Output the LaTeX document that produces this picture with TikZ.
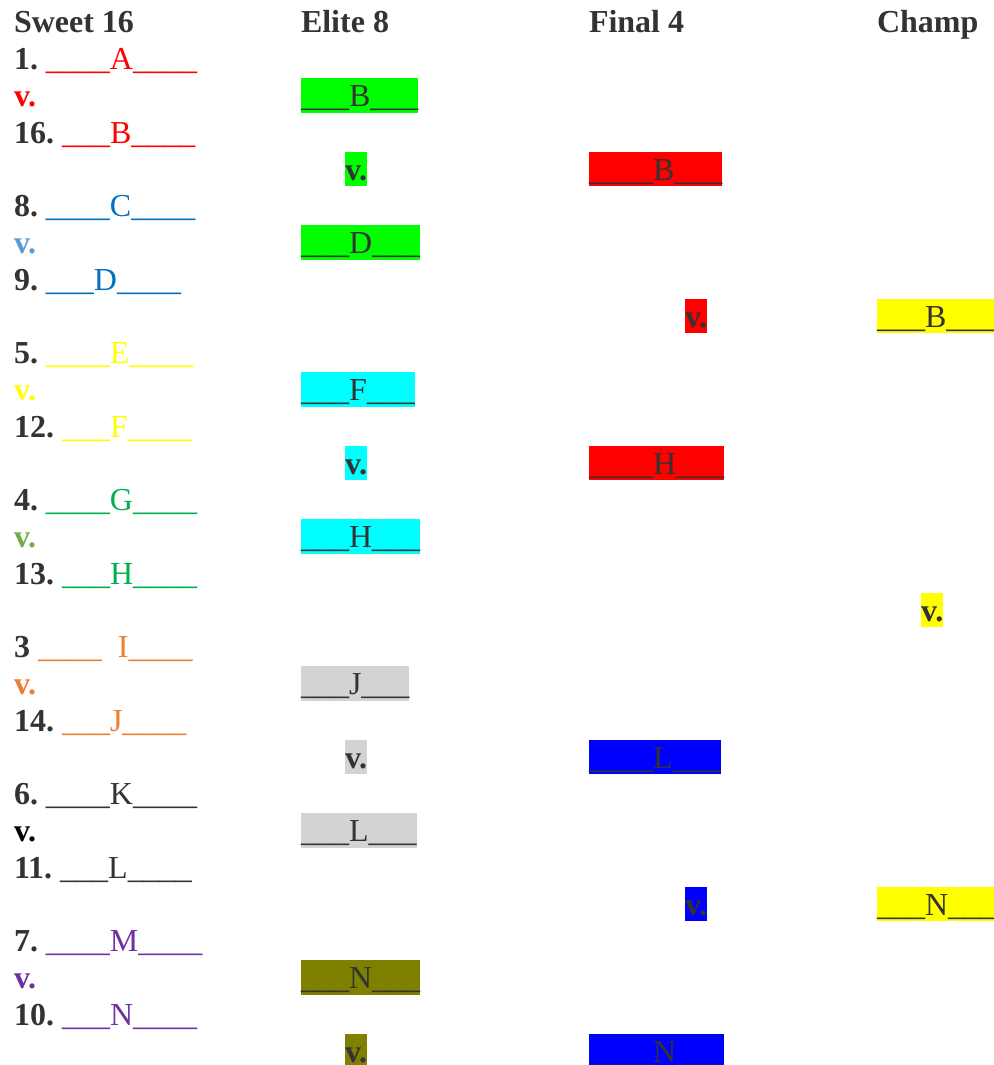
\documentclass[tikz,border=0pt]{standalone}
\usepackage{fontspec}
\setmainfont{Liberation Serif}
\frenchspacing
\definecolor{tg}{HTML}{333333}
\definecolor{cred}{HTML}{FF0000}
\definecolor{cblue}{HTML}{0070C0}
\definecolor{clblue}{HTML}{5B9BD5}
\definecolor{cyel}{HTML}{FFFF00}
\definecolor{cgreen}{HTML}{00B050}
\definecolor{clgreen}{HTML}{70AD47}
\definecolor{corange}{HTML}{ED7D31}
\definecolor{cpurple}{HTML}{7030A0}
\definecolor{hgreen}{HTML}{00FF00}
\definecolor{hcyan}{HTML}{00FFFF}
\definecolor{hgray}{HTML}{D3D3D3}
\definecolor{holive}{HTML}{808000}
\definecolor{hred}{HTML}{FF0000}
\definecolor{hblue}{HTML}{0000FF}
\definecolor{hyel}{HTML}{FFFF00}
\newcommand\us[1]{\foreach \i in {1,...,#1}{\_}}
\newcommand\uu{\_}
\begin{document}
\begin{tikzpicture}[x=1pt,y=-1pt,
  txt/.style={anchor=base west,inner sep=0pt,outer sep=0pt,font=\fontsize{32}{36.75}\selectfont,text=tg},
  hd/.style={txt,font=\fontsize{32}{36.75}\selectfont\bfseries},
  hl/.style={txt,fill=#1,text height=28.5pt,text depth=6pt},
  hv/.style={hl=#1,font=\fontsize{32}{36.75}\selectfont\bfseries}]
\useasboundingbox (0,0) rectangle (993,1065);
% headings
\node[hd] (h1) at (14,33) {Sweet 16};
\node[hd] (h2) at (301,33) {Elite 8};
\node[hd] (h3) at (589,33) {Final 4};
\node[hd] (h4) at (877,33) {Champ};
% Sweet 16
\node[txt] (s1) at (14,{33+36.75*1}) {\textbf{1.} \textcolor{cred}{\uu\uu\uu\uu A\uu\uu\uu\uu}};
\node[txt] (v1) at (14,{33+36.75*2}) {\textbf{\textcolor{cred}{v.}}};
\node[txt] (s16) at (14,{33+36.75*3}) {\textbf{16.} \textcolor{cred}{\uu\uu\uu B\uu\uu\uu\uu}};
\node[txt] (s8) at (14,{33+36.75*5}) {\textbf{8.} \textcolor{cblue}{\uu\uu\uu\uu C\uu\uu\uu\uu}};
\node[txt] (v2) at (14,{33+36.75*6}) {\textbf{\textcolor{clblue}{v.}}};
\node[txt] (s9) at (14,{33+36.75*7}) {\textbf{9.} \textcolor{cblue}{\uu\uu\uu D\uu\uu\uu\uu}};
\node[txt] (s5) at (14,{33+36.75*9}) {\textbf{5.} \textcolor{cyel}{\uu\uu\uu\uu E\uu\uu\uu\uu}};
\node[txt] (v3) at (14,{33+36.75*10}) {\textbf{\textcolor{cyel}{v.}}};
\node[txt] (s12) at (14,{33+36.75*11}) {\textbf{12.} \textcolor{cyel}{\uu\uu\uu F\uu\uu\uu\uu}};
\node[txt] (s4) at (14,{33+36.75*13}) {\textbf{4.} \textcolor{cgreen}{\uu\uu\uu\uu G\uu\uu\uu\uu}};
\node[txt] (v4) at (14,{33+36.75*14}) {\textbf{\textcolor{clgreen}{v.}}};
\node[txt] (s13) at (14,{33+36.75*15}) {\textbf{13.} \textcolor{cgreen}{\uu\uu\uu H\uu\uu\uu\uu}};
\node[txt] (s3) at (14,{33+36.75*17}) {\textbf{3} \textcolor{corange}{\uu\uu\uu\uu\hspace{16pt}I\uu\uu\uu\uu}};
\node[txt] (v5) at (14,{33+36.75*18}) {\textbf{\textcolor{corange}{v.}}};
\node[txt] (s14) at (14,{33+36.75*19}) {\textbf{14.} \textcolor{corange}{\uu\uu\uu J\uu\uu\uu\uu}};
\node[txt] (s6) at (14,{33+36.75*21}) {\textbf{6.} \uu\uu\uu\uu K\uu\uu\uu\uu};
\node[txt] (v6) at (14,{33+36.75*22}) {\textbf{\textcolor{black}{v.}}};
\node[txt] (s11) at (14,{33+36.75*23}) {\textbf{11.} \uu\uu\uu L\uu\uu\uu\uu};
\node[txt] (s7) at (14,{33+36.75*25}) {\textbf{7.} \textcolor{cpurple}{\uu\uu\uu\uu M\uu\uu\uu\uu}};
\node[txt] (v7) at (14,{33+36.75*26}) {\textbf{\textcolor{cpurple}{v.}}};
\node[txt] (s10) at (14,{33+36.75*27}) {\textbf{10.} \textcolor{cpurple}{\uu\uu\uu N\uu\uu\uu\uu}};
% Elite 8
\node[hl=hgreen] (eB) at (301,{33+36.75*2}) {\uu\uu\uu B\uu\uu\uu};
\node[hv=hgreen] (ev1) at (345,{33+36.75*4}) {v.};
\node[hl=hgreen] (eD) at (301,{33+36.75*6}) {\uu\uu\uu D\uu\uu\uu};
\node[hl=hcyan] (eF) at (301,{33+36.75*10}) {\uu\uu\uu F\uu\uu\uu};
\node[hv=hcyan] (ev2) at (345,{33+36.75*12}) {v.};
\node[hl=hcyan] (eH) at (301,{33+36.75*14}) {\uu\uu\uu H\uu\uu\uu};
\node[hl=hgray] (eJ) at (301,{33+36.75*18}) {\uu\uu\uu J\uu\uu\uu};
\node[hv=hgray] (ev3) at (345,{33+36.75*20}) {v.};
\node[hl=hgray] (eL) at (301,{33+36.75*22}) {\uu\uu\uu L\uu\uu\uu};
\node[hl=holive] (eN) at (301,{33+36.75*26}) {\uu\uu\uu N\uu\uu\uu};
\node[hv=holive] (ev4) at (345,{33+36.75*28}) {v.};
% Final 4
\node[hl=hred] (fB) at (589,{33+36.75*4}) {\uu\uu\uu\uu B\uu\uu\uu};
\node[hv=hred] (fv1) at (685,{33+36.75*8}) {v.};
\node[hl=hred] (fH) at (589,{33+36.75*12}) {\uu\uu\uu\uu H\uu\uu\uu};
\node[hl=hblue] (fL) at (589,{33+36.75*20}) {\uu\uu\uu\uu L\uu\uu\uu};
\node[hv=hblue] (fv2) at (685,{33+36.75*24}) {v.};
\node[hl=hblue] (fN) at (589,{33+36.75*28}) {\uu\uu\uu\uu N\uu\uu\uu};
% Champ
\node[hl=hyel] (cB) at (877,{33+36.75*8}) {\uu\uu\uu B\uu\uu\uu};
\node[hv=hyel] (cv) at (921,{33+36.75*16}) {v.};
\node[hl=hyel] (cN) at (877,{33+36.75*24}) {\uu\uu\uu N\uu\uu\uu};
\end{tikzpicture}
\end{document}
